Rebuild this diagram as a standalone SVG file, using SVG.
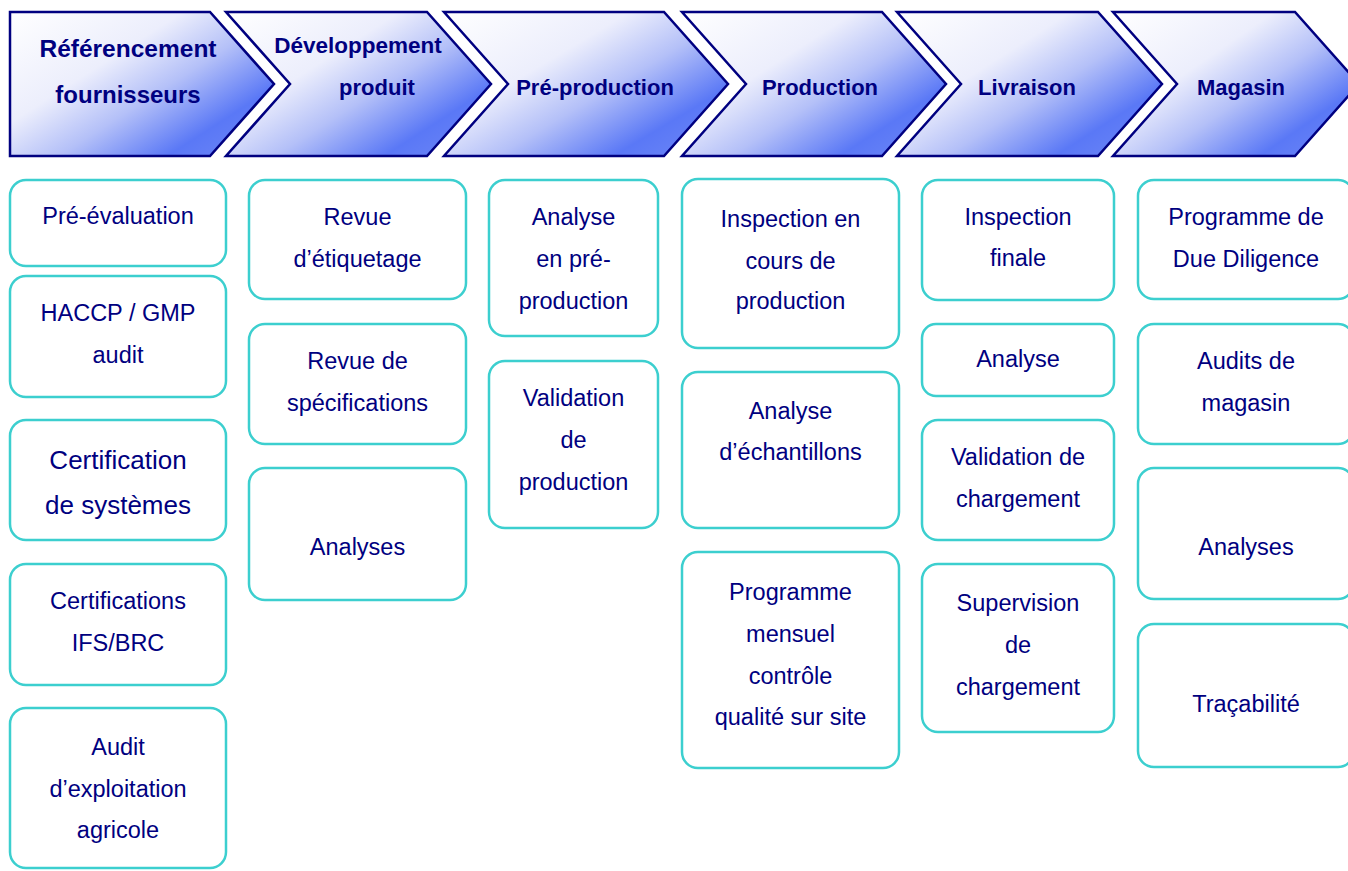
<svg xmlns="http://www.w3.org/2000/svg" width="1348" height="871" viewBox="0 0 1348 871">
<defs>
<linearGradient id="chev" x1="0" y1="0" x2="1" y2="0.85">
<stop offset="0" stop-color="#ffffff"/>
<stop offset="0.38" stop-color="#eceefc"/>
<stop offset="0.6" stop-color="#b4c0f8"/>
<stop offset="0.84" stop-color="#5a78f6"/>
<stop offset="1" stop-color="#6a84f6"/>
</linearGradient>
<style>
.chev{fill:url(#chev);stroke:#000080;stroke-width:2.5;stroke-linejoin:miter}
.ht{font-family:"Liberation Sans",Arial,sans-serif;font-weight:bold;font-size:22px;fill:#000080;text-anchor:middle}
.box{fill:#ffffff;stroke:#3ccfcf;stroke-width:2.5}
.bt{font-family:"Liberation Sans",Arial,sans-serif;font-size:23.5px;fill:#000080;text-anchor:middle}
</style>
</defs>
<rect width="1348" height="871" fill="#ffffff"/>

<g id="header">
<g id="h1"><path class="chev" d="M10,12 H210 L274,84 L210,156 H10 Z"/>
<text class="ht" x="128" y="57" style="font-size:24.5px">Référencement</text>
<text class="ht" x="128" y="103" style="font-size:24px">fournisseurs</text></g>
<g id="h2"><path class="chev" d="M226,12 H427 L491,84 L427,156 H226 L290,84 Z"/>
<text class="ht" x="358" y="53" style="font-size:22.5px">Développement</text>
<text class="ht" x="377" y="95">produit</text></g>
<g id="h3"><path class="chev" d="M444,12 H664 L728,84 L664,156 H444 L508,84 Z"/>
<text class="ht" x="595" y="95">Pré-production</text></g>
<g id="h4"><path class="chev" d="M682,12 H882 L946,84 L882,156 H682 L746,84 Z"/>
<text class="ht" x="820" y="95">Production</text></g>
<g id="h5"><path class="chev" d="M897,12 H1098 L1162,84 L1098,156 H897 L961,84 Z"/>
<text class="ht" x="1027" y="95">Livraison</text></g>
<g id="h6"><path class="chev" d="M1113,12 H1295 L1359,84 L1295,156 H1113 L1177,84 Z"/>
<text class="ht" x="1241" y="95">Magasin</text></g>
</g>

<g id="connectors"/>

<g id="col1">
<g id="c1b1"><rect class="box" x="10" y="180" width="216" height="86" rx="16"/>
<text class="bt" x="118" y="224">Pré-évaluation</text></g>
<g id="c1b2"><rect class="box" x="10" y="276" width="216" height="121" rx="16"/>
<text class="bt" x="118" y="321">HACCP / GMP</text>
<text class="bt" x="118" y="363">audit</text></g>
<g id="c1b3"><rect class="box" x="10" y="420" width="216" height="120" rx="16"/>
<text class="bt" x="118" y="469" style="font-size:26px">Certification</text>
<text class="bt" x="118" y="514" style="font-size:26px">de systèmes</text></g>
<g id="c1b4"><rect class="box" x="10" y="564" width="216" height="121" rx="16"/>
<text class="bt" x="118" y="609">Certifications</text>
<text class="bt" x="118" y="651">IFS/BRC</text></g>
<g id="c1b5"><rect class="box" x="10" y="708" width="216" height="160" rx="16"/>
<text class="bt" x="118" y="755">Audit</text>
<text class="bt" x="118" y="797">d’exploitation</text>
<text class="bt" x="118" y="838">agricole</text></g>
</g>

<g id="col2">
<g id="c2b1"><rect class="box" x="249" y="180" width="217" height="119" rx="16"/>
<text class="bt" x="357.5" y="225">Revue</text>
<text class="bt" x="357.5" y="267">d’étiquetage</text></g>
<g id="c2b2"><rect class="box" x="249" y="324" width="217" height="120" rx="16"/>
<text class="bt" x="357.5" y="369">Revue de</text>
<text class="bt" x="357.5" y="411">spécifications</text></g>
<g id="c2b3"><rect class="box" x="249" y="468" width="217" height="132" rx="16"/>
<text class="bt" x="357.5" y="555">Analyses</text></g>
</g>

<g id="col3">
<g id="c3b1"><rect class="box" x="489" y="180" width="169" height="156" rx="16"/>
<text class="bt" x="573.5" y="225">Analyse</text>
<text class="bt" x="573.5" y="267">en pré-</text>
<text class="bt" x="573.5" y="309">production</text></g>
<g id="c3b2"><rect class="box" x="489" y="361" width="169" height="167" rx="16"/>
<text class="bt" x="573.5" y="406">Validation</text>
<text class="bt" x="573.5" y="448">de</text>
<text class="bt" x="573.5" y="490">production</text></g>
</g>

<g id="col4">
<g id="c4b1"><rect class="box" x="682" y="179" width="217" height="169" rx="16"/>
<text class="bt" x="790.5" y="227">Inspection en</text>
<text class="bt" x="790.5" y="269">cours de</text>
<text class="bt" x="790.5" y="309">production</text></g>
<g id="c4b2"><rect class="box" x="682" y="372" width="217" height="156" rx="16"/>
<text class="bt" x="790.5" y="419">Analyse</text>
<text class="bt" x="790.5" y="460">d’échantillons</text></g>
<g id="c4b3"><rect class="box" x="682" y="552" width="217" height="216" rx="16"/>
<text class="bt" x="790.5" y="600">Programme</text>
<text class="bt" x="790.5" y="642">mensuel</text>
<text class="bt" x="790.5" y="684">contrôle</text>
<text class="bt" x="790.5" y="725">qualité sur site</text></g>
</g>

<g id="col5">
<g id="c5b1"><rect class="box" x="922" y="180" width="192" height="120" rx="16"/>
<text class="bt" x="1018" y="225">Inspection</text>
<text class="bt" x="1018" y="266">finale</text></g>
<g id="c5b2"><rect class="box" x="922" y="324" width="192" height="72" rx="14"/>
<text class="bt" x="1018" y="367">Analyse</text></g>
<g id="c5b3"><rect class="box" x="922" y="420" width="192" height="120" rx="16"/>
<text class="bt" x="1018" y="465">Validation de</text>
<text class="bt" x="1018" y="507">chargement</text></g>
<g id="c5b4"><rect class="box" x="922" y="564" width="192" height="168" rx="16"/>
<text class="bt" x="1018" y="611">Supervision</text>
<text class="bt" x="1018" y="653">de</text>
<text class="bt" x="1018" y="695">chargement</text></g>
</g>

<g id="col6">
<g id="c6b1"><rect class="box" x="1138" y="180" width="216" height="119" rx="16"/>
<text class="bt" x="1246" y="225">Programme de</text>
<text class="bt" x="1246" y="267">Due Diligence</text></g>
<g id="c6b2"><rect class="box" x="1138" y="324" width="216" height="120" rx="16"/>
<text class="bt" x="1246" y="369">Audits de</text>
<text class="bt" x="1246" y="411">magasin</text></g>
<g id="c6b3"><rect class="box" x="1138" y="468" width="216" height="131" rx="16"/>
<text class="bt" x="1246" y="555">Analyses</text></g>
<g id="c6b4"><rect class="box" x="1138" y="624" width="216" height="143" rx="16"/>
<text class="bt" x="1246" y="712">Traçabilité</text></g>
</g>
</svg>
